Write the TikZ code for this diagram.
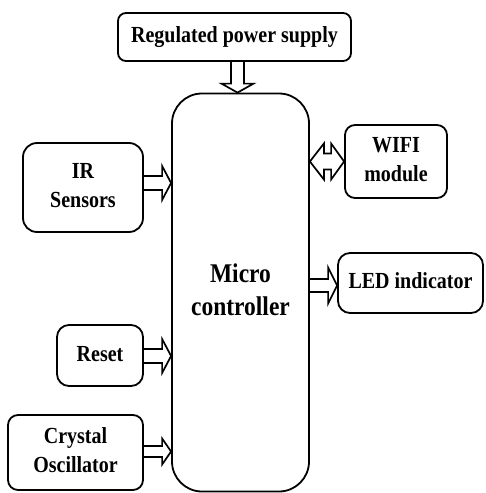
\documentclass[tikz,border=0pt]{standalone}
\usepackage{fontspec}
\setmainfont{Liberation Serif}
\usepackage{graphicx}
\usetikzlibrary{calc}
\newcommand{\Stx}[1]{\scalebox{1}[1.15]{\begin{tabular}{@{}c@{}}#1\end{tabular}}}
% horizontal hollow arrow: #1 start anchor, #2 target anchor (x used), #3 dy, #4 shaft half, #5 head half
\newcommand{\HArrow}[5]{%
  \draw[arrline] ($(#1)+(0,{#3-#4})$) -- ($(#1 -| #2)+(-9,{#3-#4})$) -- ($(#1 -| #2)+(-9,{#3-#5})$)
    -- ($(#1 -| #2)+(0,#3)$) -- ($(#1 -| #2)+(-9,{#3+#5})$) -- ($(#1 -| #2)+(-9,{#3+#4})$)
    -- ($(#1)+(0,{#3+#4})$);}
\begin{document}
\begin{tikzpicture}[x=1pt,y=-1pt,
  box/.style={draw, line width=1.8pt, inner sep=0pt, align=center,
    font=\fontsize{20}{25}\selectfont\bfseries},
  arrline/.style={line width=1.7pt, line join=miter}]
\useasboundingbox (0,0) rectangle (485,493);
\node[box, rounded corners=8pt, minimum width=233pt, minimum height=48pt] (psu) at (234.5,37) {\Stx{Regulated power supply}};
\node[box, rounded corners=30pt, minimum width=137pt, minimum height=398pt,
  font=\fontsize{23.5}{28}\selectfont\bfseries] (mc) at (240.5,292.5) {\raisebox{-7pt}{\Stx{Micro\\controller}}};
\node[box, rounded corners=14pt, minimum width=120pt, minimum height=89pt] (ir) at (83,187.5) {\raisebox{4pt}{\Stx{IR\\Sensors}}};
\node[box, rounded corners=10pt, minimum width=102pt, minimum height=73pt] (wifi) at (396,161.5) {\Stx{WIFI\\module}};
\node[box, rounded corners=12pt, minimum width=145pt, minimum height=60pt] (led) at (410.5,283) {\Stx{LED indicator}};
\node[box, rounded corners=12pt, minimum width=86pt, minimum height=61pt] (reset) at (100,355.5) {\Stx{Reset}};
\node[box, rounded corners=10pt, minimum width=135pt, minimum height=75pt] (osc) at (75.5,452.5) {\Stx{Crystal\\Oscillator}};
% down arrow
\draw[arrline] ($(psu.south)+({3-6.5},0)$) -- ($(psu.south |- mc.north)+({3-6.5},-9)$)
  -- ($(psu.south |- mc.north)+({3-16},-9)$) -- ($(psu.south |- mc.north)+(3,0)$)
  -- ($(psu.south |- mc.north)+({3+16},-9)$) -- ($(psu.south |- mc.north)+({3+6.5},-9)$)
  -- ($(psu.south)+({3+6.5},0)$);
\HArrow{ir.east}{mc.west}{-4.5}{7}{17}
\HArrow{reset.east}{mc.west}{0.5}{7}{17}
\HArrow{osc.east}{mc.west}{-1}{5.5}{13}
\HArrow{mc.east |- led.west}{led.west}{2.5}{6.5}{18}
% double arrow to wifi
\draw[arrline] (mc.east |- wifi.west) -- ($(mc.east |- wifi.west)+(14,-18)$) -- ($(mc.east |- wifi.west)+(14,-8)$)
  -- ($(wifi.west)+(-13,-8)$) -- ($(wifi.west)+(-13,-18)$) -- (wifi.west) -- ($(wifi.west)+(-13,18)$)
  -- ($(wifi.west)+(-13,8)$) -- ($(mc.east |- wifi.west)+(14,8)$) -- ($(mc.east |- wifi.west)+(14,18)$) -- cycle;
\end{tikzpicture}
\end{document}
